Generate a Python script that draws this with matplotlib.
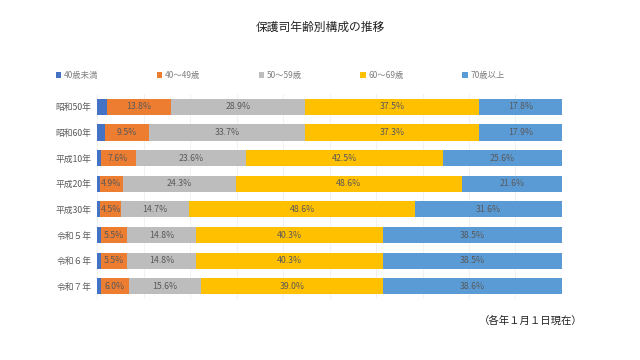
import numpy as np
import matplotlib.pyplot as plt

plt.rcParams['font.family'] = ['Noto Sans CJK JP', 'DejaVu Sans']

### data
years = ['昭和50年', '昭和60年', '平成10年', '平成20年', '平成30年', '令和５年', '令和６年', '令和７年']
groups = ['40歳未満', '40～49歳', '50～59歳', '60～69歳', '70歳以上']
u40 = [2.0, 1.6, 0.7, 0.6, 0.6, 0.9, 0.9, 0.8]        # unlabeled in source, remainder to 100
s40 = [13.8, 9.5, 7.6, 4.9, 4.5, 5.5, 5.5, 6.0]
s50 = [28.9, 33.7, 23.6, 24.3, 14.7, 14.8, 14.8, 15.6]
s60 = [37.5, 37.3, 42.5, 48.6, 48.6, 40.3, 40.3, 39.0]
s70 = [17.8, 17.9, 25.6, 21.6, 31.6, 38.5, 38.5, 38.6]
colors = ['#4472C4', '#ED7D31', '#BDBDBD', '#FFC000', '#5B9BD5']

series = [u40, s40, s50, s60, s70]

### plot
fig = plt.figure(figsize=(6.4, 3.6), dpi=100)
ax = fig.add_axes([0.152, 0.169, 0.726, 0.570])

y = np.arange(len(years))
left = np.zeros(len(years))
for i, vals in enumerate(series):
    vals = np.array(vals)
    b = ax.barh(y, vals, left=left, height=0.63, color=colors[i], label=groups[i], zorder=2)
    if i > 0:
        ax.bar_label(b, labels=['%.1f%%' % v for v in vals], label_type='center',
                     fontsize=6.3, color='#595959')
    left += vals

ax.set_xlim(0, 100)
ax.set_ylim(len(years) - 0.5, -0.5)
ax.set_yticks(y)
ax.set_yticklabels(years, fontsize=6.3, color='#595959')
ax.set_xticks(np.arange(0, 101, 10))
ax.xaxis.grid(True, color='#EFEFEF', linewidth=0.6, zorder=0)
ax.tick_params(axis='x', bottom=False, labelbottom=False)
ax.tick_params(axis='y', length=0, pad=4)
for s in ax.spines.values():
    s.set_visible(False)

fig.text(0.5, 0.925, '保護司年齢別構成の推移', ha='center', va='center', fontsize=8.5, color='#222222')
fig.text(0.91, 0.11, '（各年１月１日現在）', ha='right', va='center', fontsize=7.5, color='#222222')

fig.legend(loc='center left', bbox_to_anchor=(0.075, 0.79), ncol=5, frameon=False,
           fontsize=6, handlelength=0.7, handleheight=0.7, handletextpad=0.3,
           columnspacing=7.0, labelcolor='#7F7F7F')

fig.savefig('out.png', dpi=100)
